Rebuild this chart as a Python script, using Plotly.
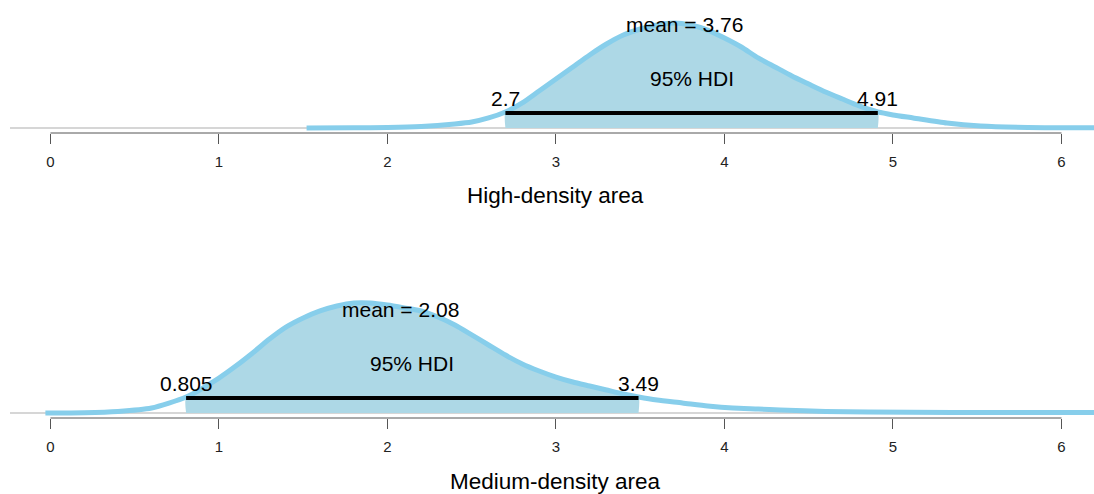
import numpy as np
import plotly.graph_objects as go

# ---------------- data ----------------
# High-density area posterior (density curve)
high_x = [1.52, 1.8, 2.0, 2.2, 2.4, 2.5, 2.6, 2.7, 2.8, 2.9, 3.0, 3.1, 3.2, 3.3, 3.4,
          3.5, 3.6, 3.7, 3.8, 3.9, 4.0, 4.1, 4.2, 4.3, 4.4, 4.5, 4.6, 4.7, 4.8, 4.91,
          5.0, 5.12, 5.32, 5.52, 5.8, 6.0, 6.3]
high_d = [0.000, 0.0013, 0.0033, 0.010, 0.027, 0.040, 0.067, 0.107, 0.167, 0.247,
          0.327, 0.407, 0.487, 0.560, 0.620, 0.660, 0.687, 0.700, 0.687, 0.653,
          0.600, 0.540, 0.467, 0.407, 0.347, 0.293, 0.240, 0.193, 0.147, 0.107,
          0.087, 0.067, 0.033, 0.013, 0.0033, 0.002, 0.0013]
high_mean = 3.76
high_hdi = [2.7, 4.91]
high_hdi_labels = ["2.7", "4.91"]

# Medium-density area posterior
med_x = [-0.03, 0.2, 0.4, 0.6, 0.805, 1.0, 1.1, 1.2, 1.3, 1.4, 1.5, 1.6, 1.7, 1.8,
         1.9, 2.0, 2.1, 2.2, 2.3, 2.4, 2.5, 2.6, 2.7, 2.8, 2.9, 3.0, 3.1, 3.2, 3.3,
         3.4, 3.49, 3.6, 3.75, 3.9, 4.05, 4.2, 4.33, 4.6, 5.1, 5.6, 6.3]
med_d = [0.000, 0.0016, 0.0079, 0.026, 0.084, 0.184, 0.247, 0.316, 0.389, 0.453,
         0.500, 0.537, 0.563, 0.579, 0.579, 0.568, 0.553, 0.537, 0.505, 0.463,
         0.411, 0.358, 0.305, 0.258, 0.221, 0.189, 0.163, 0.142, 0.121, 0.100,
         0.084, 0.068, 0.053, 0.037, 0.026, 0.021, 0.016, 0.0079, 0.0042, 0.0026,
         0.0021]
med_mean = 2.08
med_hdi = [0.805, 3.49]
med_hdi_labels = ["0.805", "3.49"]

tick_vals = [0, 1, 2, 3, 4, 5, 6]
tick_text = ["0", "1", "2", "3", "4", "5", "6"]
axis_titles = ["High-density area", "Medium-density area"]

# ---------------- style ----------------
FONT = "Liberation Sans, Arial, sans-serif"
LINE_COL = "#87CEEB"
FILL_COL = "#ADD8E6"
W, H = 1094, 494
XRANGE = [-0.240, 6.193]

panels = [
    dict(x=high_x, d=high_d, mean=high_mean, hdi=high_hdi, lab=high_hdi_labels,
         title=axis_titles[0], top=0, bottom=133, scale=150.0, title_y=196),
    dict(x=med_x, d=med_d, mean=med_mean, hdi=med_hdi, lab=med_hdi_labels,
         title=axis_titles[1], top=285, bottom=418, scale=190.0, title_y=481),
]

fig = go.Figure()
annotations = []
shapes = []
layout_axes = {}

for i, p in enumerate(panels):
    xa = "x" if i == 0 else "x2"
    ya = "y" if i == 0 else "y2"
    xname = "xaxis" if i == 0 else "xaxis2"
    yname = "yaxis" if i == 0 else "yaxis2"
    xs = np.array(p["x"], dtype=float)
    ds = np.array(p["d"], dtype=float)
    lo, hi = p["hdi"]

    # fill under curve inside the HDI
    inside = (xs > lo) & (xs < hi)
    fx = np.concatenate([[lo], xs[inside], [hi]])
    fy = np.concatenate([[np.interp(lo, xs, ds)], ds[inside], [np.interp(hi, xs, ds)]])
    fx = np.concatenate([[lo], fx, [hi]])
    fy = np.concatenate([[0], fy, [0]])
    fig.add_trace(go.Scatter(x=fx, y=fy, mode="lines", fill="toself",
                             fillcolor=FILL_COL,
                             line=dict(width=0, color=FILL_COL, shape="spline", smoothing=0.6),
                             hoverinfo="skip", showlegend=False, xaxis=xa, yaxis=ya))
    # density curve
    fig.add_trace(go.Scatter(x=xs, y=ds, mode="lines",
                             line=dict(color=LINE_COL, width=5, shape="spline", smoothing=0.6),
                             showlegend=False, xaxis=xa, yaxis=ya))
    # HDI bar
    bar_y = 15 / p["scale"]
    fig.add_trace(go.Scatter(x=[lo, hi], y=[bar_y, bar_y], mode="lines",
                             line=dict(color="black", width=4),
                             showlegend=False, xaxis=xa, yaxis=ya))

    # baseline (gray) across the whole panel
    shapes.append(dict(type="line", xref=f"{xa} domain", yref=ya, x0=0, x1=1, y0=0, y1=0,
                       line=dict(color="#C8C8C8", width=1.5), layer="below"))
    # axis line from first to last tick
    shapes.append(dict(type="line", xref=xa, yref=f"{ya} domain", x0=tick_vals[0], x1=tick_vals[-1],
                       y0=0, y1=0, line=dict(color="#555555", width=1)))

    # texts
    annotations.append(dict(x=p["mean"], y=0, xref=xa, yref=ya, yshift=104,
                            text=f"mean = {p['mean']:.2f}", showarrow=False,
                            font=dict(family=FONT, size=21, color="black"),
                            xanchor="center", yanchor="middle"))
    annotations.append(dict(x=(lo + hi) / 2, y=0, xref=xa, yref=ya, yshift=50,
                            text="95% HDI", showarrow=False,
                            font=dict(family=FONT, size=21, color="black"),
                            xanchor="center", yanchor="middle"))
    for v, t in zip(p["hdi"], p["lab"]):
        annotations.append(dict(x=v, y=0, xref=xa, yref=ya, yshift=30,
                                text=t, showarrow=False,
                                font=dict(family=FONT, size=21, color="black"),
                                xanchor="center", yanchor="middle"))
    annotations.append(dict(x=555 / W, y=1 - p["title_y"] / H, xref="paper", yref="paper",
                            text=p["title"], showarrow=False,
                            font=dict(family=FONT, size=22.5, color="black"),
                            xanchor="center", yanchor="middle"))

    layout_axes[xname] = dict(domain=[10 / W, 1], range=XRANGE, anchor=ya,
                              tickmode="array", tickvals=tick_vals, ticktext=tick_text,
                              ticks="outside", ticklen=10, tickwidth=1, tickcolor="#555555",
                              tickfont=dict(family=FONT, size=15, color="#222222"),
                              ticklabelstandoff=5,
                              showline=False, showgrid=False, zeroline=False)
    layout_axes[yname] = dict(domain=[1 - p["bottom"] / H, 1 - p["top"] / H],
                              range=[-5 / p["scale"], 128 / p["scale"]], anchor=xa,
                              visible=False, showgrid=False, zeroline=False)

fig.update_layout(width=W, height=H, margin=dict(l=0, r=0, t=0, b=0),
                  paper_bgcolor="white", plot_bgcolor="white", hovermode=False,
                  annotations=annotations, shapes=shapes, **layout_axes)

fig.write_html("out.html", config={"displayModeBar": False},
               post_script="document.body.style.margin='0';document.body.style.overflow='hidden';")
